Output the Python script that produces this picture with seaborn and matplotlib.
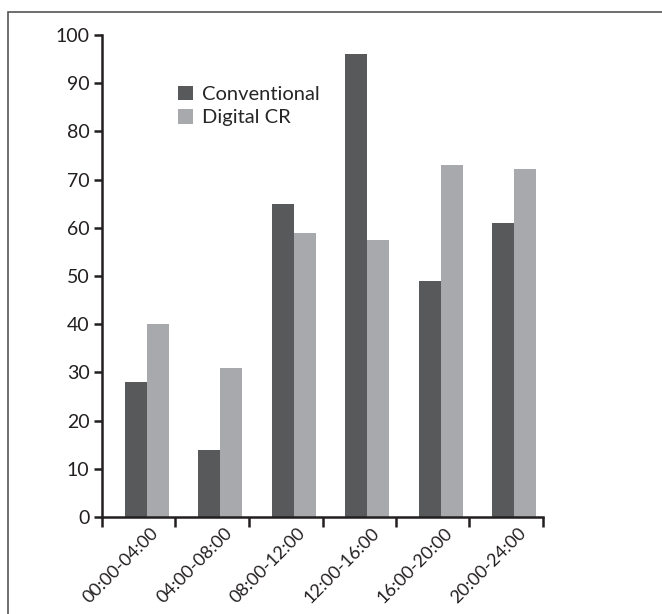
import numpy as np
import pandas as pd
import seaborn as sns
import matplotlib
matplotlib.use('Agg')
from matplotlib import pyplot as plt
from matplotlib.patches import Rectangle

# values
periods = ['00:00-04:00', '04:00-08:00', '08:00-12:00',
           '12:00-16:00', '16:00-20:00', '20:00-24:00']
conventional = [28, 14, 65, 96, 49, 61]
digital_cr = [40, 31, 59, 57.5, 73, 72.2]

df = pd.DataFrame({
    'period': periods * 2,
    'value': conventional + digital_cr,
    'group': ['Conventional'] * 6 + ['Digital CR'] * 6,
})

sns.set_style('ticks')
plt.rcParams['font.family'] = ['Lato', 'DejaVu Sans']
fs = 14.5

fig = plt.figure(figsize=(6.62, 6.14), dpi=100)
ax = fig.add_axes([102 / 662, 1 - 517 / 614, 441 / 662, 482 / 614])

sns.barplot(data=df, x='period', y='value', hue='group', order=periods,
            palette=['#58595b', '#a7a9ac'], width=0.6, saturation=1,
            linewidth=0, ax=ax)

# bars sit a bit right of the category centres in the original
shift = 0.11
ax.set_xlim(-0.5 - shift, len(periods) - 0.5 - shift)
ax.set_ylim(0, 100)
ax.set_yticks(range(0, 101, 10))
ax.set_xticks(np.arange(len(periods) + 1) - 0.5 - shift)
ax.set_xticklabels([])
ax.set_xticks(np.arange(len(periods)) + 0.05, labels=periods, minor=True)
ax.tick_params(axis='x', which='major', length=7, width=1.8, color='#231f20')
ax.tick_params(axis='x', which='minor', length=0, pad=6, labelsize=13,
               labelcolor='#231f20')
ax.tick_params(axis='y', length=6, width=1.8, color='#231f20', pad=3,
               labelsize=14, labelcolor='#231f20')
for lbl in ax.get_xticklabels(minor=True):
    lbl.set_rotation(45)
    lbl.set_ha('right')
    lbl.set_rotation_mode('anchor')

ax.set_xlabel('')
ax.set_ylabel('')
sns.despine(ax=ax)
for side in ['left', 'bottom']:
    ax.spines[side].set_linewidth(1.8)
    ax.spines[side].set_color('#231f20')

ax.legend(loc='upper left', bbox_to_anchor=(0.172, 0.895), frameon=False,
          fontsize=fs, handlelength=0.75, handleheight=0.75,
          handletextpad=0.45, labelspacing=0.3, borderpad=0,
          borderaxespad=0)

fig.patches.append(Rectangle((8 / 662, -0.05), 1.1, 1.05 - 12 / 614,
                             transform=fig.transFigure, fill=False,
                             edgecolor='#555555', linewidth=1.2))

plt.savefig('out.png', dpi=100)
